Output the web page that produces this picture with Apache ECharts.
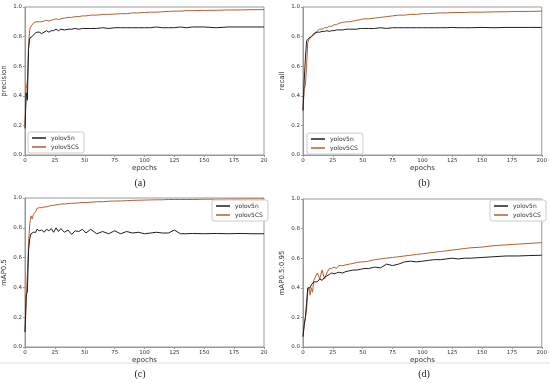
<!DOCTYPE html>
<html><head><meta charset="utf-8">
<script src="https://cdn.jsdelivr.net/npm/echarts@6/dist/echarts.min.js"></script>
<style>html,body{margin:0;padding:0;background:#fff}#c{width:550px;height:383px}</style>
</head><body><div id="c"></div>
<script>
const epochs = [0,1,2,3,4,5,6,7,8,9,10,12,14,16,18,20,22,24,26,28,30,33,36,39,42,45,48,51,55,60,65,70,75,80,85,90,95,100,105,110,115,120,125,130,135,140,150,160,170,180,190,200];

const precision5n = [0.18,0.42,0.37,0.72,0.79,0.80,0.80,0.81,0.82,0.82,0.83,0.83,0.82,0.83,0.84,0.83,0.84,0.84,0.85,0.84,0.85,0.845,0.85,0.85,0.855,0.85,0.855,0.855,0.855,0.855,0.86,0.855,0.86,0.86,0.86,0.86,0.86,0.86,0.86,0.865,0.86,0.86,0.86,0.865,0.86,0.865,0.865,0.86,0.865,0.865,0.865,0.865];
const precisionCS = [0.2,0.45,0.5,0.75,0.85,0.87,0.86,0.89,0.88,0.9,0.91,0.9,0.9,0.905,0.91,0.905,0.91,0.915,0.92,0.915,0.92,0.925,0.93,0.93,0.935,0.935,0.94,0.94,0.945,0.945,0.95,0.95,0.952,0.955,0.955,0.96,0.96,0.963,0.965,0.965,0.968,0.97,0.972,0.972,0.975,0.975,0.977,0.978,0.98,0.98,0.982,0.982];

const recall5n = [0.3,0.5,0.65,0.77,0.78,0.79,0.8,0.8,0.81,0.82,0.82,0.83,0.83,0.835,0.835,0.84,0.835,0.84,0.84,0.845,0.845,0.845,0.85,0.85,0.85,0.85,0.855,0.855,0.855,0.855,0.86,0.855,0.86,0.86,0.86,0.86,0.86,0.86,0.86,0.86,0.86,0.86,0.862,0.86,0.86,0.86,0.862,0.86,0.862,0.862,0.862,0.862];
const recallCS = [0.3,0.45,0.47,0.6,0.76,0.78,0.79,0.8,0.8,0.81,0.82,0.84,0.85,0.85,0.86,0.86,0.87,0.87,0.88,0.88,0.89,0.895,0.9,0.9,0.905,0.91,0.915,0.92,0.92,0.925,0.93,0.935,0.94,0.945,0.945,0.95,0.95,0.955,0.955,0.958,0.96,0.96,0.962,0.963,0.963,0.965,0.965,0.967,0.968,0.97,0.97,0.972];

const map50_5n = [0.1,0.35,0.37,0.65,0.73,0.76,0.77,0.77,0.78,0.77,0.79,0.78,0.785,0.77,0.79,0.78,0.795,0.77,0.80,0.775,0.795,0.77,0.785,0.755,0.78,0.775,0.79,0.765,0.79,0.76,0.775,0.76,0.78,0.76,0.775,0.765,0.77,0.76,0.765,0.77,0.765,0.765,0.785,0.76,0.76,0.762,0.76,0.762,0.76,0.762,0.76,0.76];
const map50_CS = [0.1,0.3,0.5,0.7,0.83,0.88,0.86,0.89,0.9,0.91,0.93,0.935,0.935,0.94,0.94,0.945,0.95,0.95,0.955,0.955,0.96,0.96,0.962,0.965,0.965,0.968,0.97,0.97,0.972,0.975,0.975,0.978,0.98,0.98,0.982,0.984,0.985,0.986,0.987,0.988,0.988,0.99,0.99,0.99,0.99,0.99,0.992,0.992,0.993,0.993,0.994,0.994];

const map5095_5n = [0.07,0.15,0.2,0.3,0.4,0.41,0.4,0.42,0.43,0.44,0.45,0.44,0.46,0.45,0.47,0.48,0.49,0.5,0.495,0.5,0.505,0.5,0.51,0.515,0.52,0.52,0.525,0.53,0.53,0.54,0.535,0.56,0.55,0.56,0.575,0.58,0.575,0.58,0.585,0.59,0.59,0.595,0.6,0.595,0.6,0.6,0.605,0.61,0.615,0.615,0.618,0.62];
const map5095_CS = [0.07,0.15,0.2,0.25,0.38,0.4,0.35,0.4,0.37,0.45,0.46,0.5,0.46,0.52,0.46,0.5,0.53,0.53,0.54,0.53,0.55,0.55,0.555,0.56,0.565,0.57,0.575,0.575,0.58,0.59,0.595,0.6,0.605,0.61,0.615,0.62,0.625,0.63,0.635,0.64,0.645,0.65,0.655,0.66,0.665,0.67,0.675,0.685,0.69,0.695,0.70,0.705];

const xTickLabelsCut = ["0","25","50","75","100","125","150","175","20"];
const xTickLabelsFull = ["0","25","50","75","100","125","150","175","200"];
const yNames = ["precision","recall","mAP0.5","mAP0.5:0.95"];
const captions = ["(a)","(b)","(c)","(d)"];
const seriesNames = ["yolov5n","yolov5CS"];

const C5n = '#1e1e1e', CCS = '#b85c2e';
const grids = [
  {left:25, top:7, width:239, height:148},
  {left:303, top:7, width:240, height:148},
  {left:25, top:198, width:239, height:149},
  {left:303, top:199, width:240, height:148}
];
const panelData = [[precision5n,precisionCS],[recall5n,recallCS],[map50_5n,map50_CS],[map5095_5n,map5095_CS]];
const xLabelSets = [xTickLabelsCut,xTickLabelsFull,xTickLabelsCut,xTickLabelsFull];

const xAxis = [], yAxis = [], series = [], legend = [];
grids.forEach((g,i)=>{
  g.show = true; g.borderColor = '#999'; g.borderWidth = 1; g.backgroundColor='#fff';
  const labs = xLabelSets[i];
  xAxis.push({type:'value', gridIndex:i, min:0, max:200, interval:25,
    name:'epochs', nameLocation:'middle', nameGap:10, nameTextStyle:{fontSize:7,color:'#333',fontFamily:'DejaVu Sans'},
    axisLine:{lineStyle:{color:'#999'}}, axisTick:{length:2,lineStyle:{color:'#999'}},
    axisLabel:{fontSize:5.5,color:'#333',margin:3,fontFamily:'DejaVu Sans',formatter:v=>labs[Math.round(v/25)]},
    splitLine:{show:false}});
  yAxis.push({type:'value', gridIndex:i, min:0, max:1, interval:0.2,
    name:yNames[i], nameLocation:'middle', nameGap:17, nameTextStyle:{fontSize:7,color:'#333',fontFamily:'DejaVu Sans'},
    axisLine:{show:true,lineStyle:{color:'#999'}}, axisTick:{show:true,length:2,lineStyle:{color:'#999'}},
    axisLabel:{fontSize:5.5,color:'#333',margin:3,fontFamily:'DejaVu Sans',formatter:v=>v.toFixed(1)},
    splitLine:{show:false}});
  [C5n,CCS].forEach((col,k)=>{
    series.push({type:'line', name:seriesNames[k], xAxisIndex:i, yAxisIndex:i, symbol:'none',
      lineStyle:{width:1,color:col}, itemStyle:{color:col}, z:k===0?3:2,
      data: epochs.map((e,j)=>[e,panelData[i][k][j]])});
  });
});
const legPos = [
  {left:28, top:132}, {left:307, top:133}, {left:212, top:200}, {left:490, top:200}
];
legPos.forEach(p=>{
  legend.push(Object.assign({orient:'vertical', data:seriesNames, icon:'rect', itemWidth:14, itemHeight:1.5,
    itemGap:3, padding:[3,5,3,4], borderColor:'#ccc', borderWidth:1, borderRadius:2, backgroundColor:'#fff',
    textStyle:{fontSize:6,color:'#333',fontFamily:'DejaVu Sans'}, selectedMode:false}, p));
});
const capPos = [[140,183],[424,183],[140,374],[424,374]];
const graphic = capPos.map((p,i)=>({type:'text', x:p[0], y:p[1],
  style:{text:captions[i], font:'10px "Liberation Serif"', fill:'#222', textAlign:'center', textVerticalAlign:'middle'}}));
graphic.push({type:'line', shape:{x1:0,y1:363,x2:550,y2:363}, style:{stroke:'#ddd',lineWidth:1}});

const chart = echarts.init(document.getElementById('c'));
chart.setOption({animation:false, grid:grids, xAxis, yAxis, series, legend, graphic});
</script></body></html>
